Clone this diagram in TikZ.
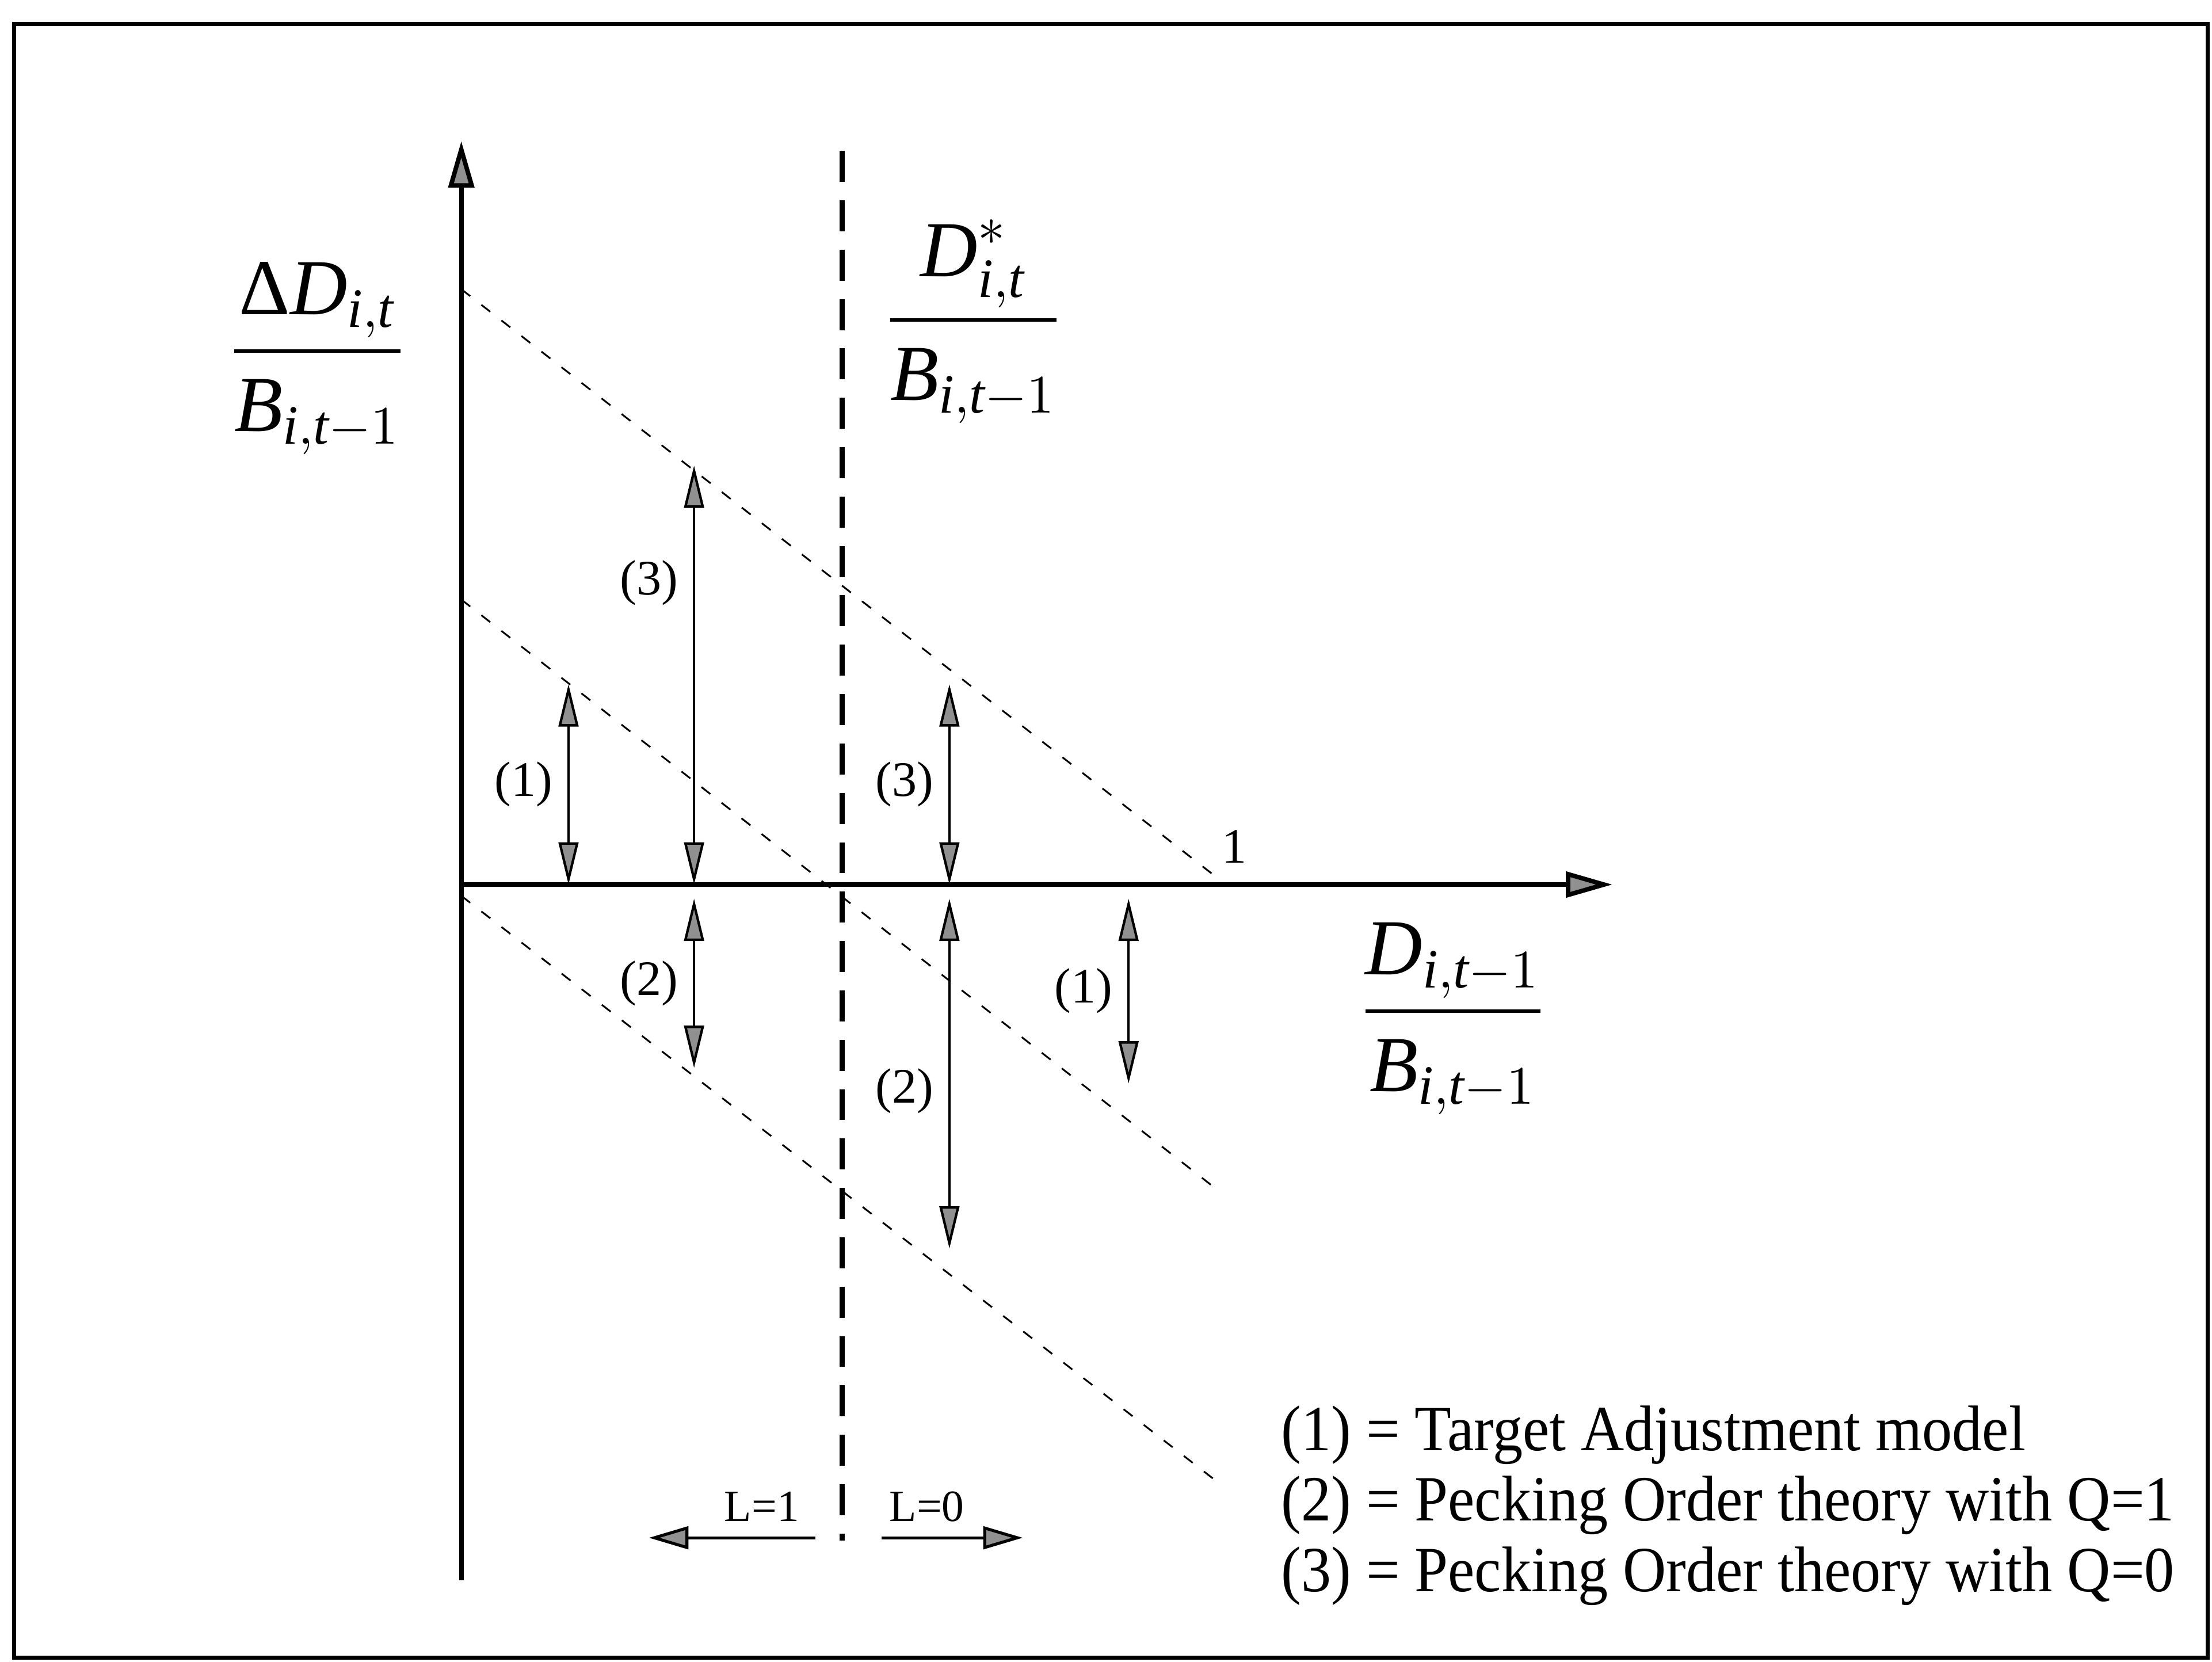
\documentclass[tikz,border=0pt]{standalone}
\usepackage{amsmath}
\usepackage{fontspec}
\setmainfont{Liberation Serif}
\newfontfamily\fontelegenda[FakeStretch=0.93]{Liberation Serif}
\usepackage{tikz}
\usetikzlibrary{arrows.meta}
\definecolor{cinzaseta}{HTML}{909090}

\begin{document}
\begin{tikzpicture}[x=0.1mm,y=-0.1mm,
    every node/.style={font=\fontsize{10}{12}\selectfont,inner sep=1pt},
    eixo/.style={line width=0.9pt,-{Triangle[length=3.3mm,width=1.8mm,fill=cinzaseta]}},
    duplo/.style={line width=0.5pt,{Triangle[length=3mm,width=1.4mm,fill=cinzaseta]}-{Triangle[length=3mm,width=1.4mm,fill=cinzaseta]}},
    seta/.style={line width=0.6pt,-{Triangle[length=2.8mm,width=1.6mm,fill=cinzaseta]}},
    reta/.style={line width=0.35pt,dash pattern=on 0.8mm off 1mm},
    corte/.style={line width=1.1pt,dash pattern=on 2.2mm off 1.3mm},
    fracao/.style={font=\fontsize{16}{19}\selectfont,anchor=base},
    legenda/.style={font=\fontelegenda\fontsize{13}{15}\selectfont,anchor=base west}]
  \useasboundingbox (0,0) rectangle (1568,1178);
  \draw[line width=0.8pt] (10,17) rectangle (1565,1175);
  \coordinate (orig) at (327,627);
  \coordinate (ybot) at (327,1120);
  \coordinate (ytip) at (327,100);
  \coordinate (xtip) at (1143,627);
  \coordinate (ctop) at (597,107);
  \coordinate (cbot) at (597,1092);
  \coordinate (a0) at (327,205);
  \coordinate (a1) at (860,620);
  \coordinate (b0) at (327,425);
  \coordinate (b1) at (865,845);
  \coordinate (c0) at (327,635);
  \coordinate (c1) at (865,1052);
  \coordinate (p1top) at (403,485);
  \coordinate (p1bot) at (403,627);
  \coordinate (p3top) at (492,330);
  \coordinate (p3bot) at (492,627);
  \coordinate (p2top) at (492,637);
  \coordinate (p2bot) at (492,757);
  \coordinate (q3top) at (673,485);
  \coordinate (q3bot) at (673,627);
  \coordinate (q2top) at (673,637);
  \coordinate (q2bot) at (673,885);
  \coordinate (q1top) at (800,637);
  \coordinate (q1bot) at (800,768);
  \coordinate (l1a) at (578,1090);
  \coordinate (l1b) at (460,1090);
  \coordinate (l0a) at (625,1090);
  \coordinate (l0b) at (725,1090);
  \draw[eixo] (ybot)--(ytip);
  \draw[eixo] (orig)--(xtip);
  \draw[corte] (ctop)--(cbot);
  \draw[reta] (a0)--(a1);
  \draw[reta] (b0)--(b1);
  \draw[reta] (c0)--(c1);
  \draw[duplo] (p1top)--(p1bot) node[midway,left=2pt] {(1)};
  \draw[duplo] (p3top)--(p3bot) node[pos=0.28,left=2pt] {(3)};
  \draw[duplo] (p2top)--(p2bot) node[midway,left=2pt] {(2)};
  \draw[duplo] (q3top)--(q3bot) node[midway,left=2pt] {(3)};
  \draw[duplo] (q2top)--(q2bot) node[pos=0.55,left=2pt] {(2)};
  \draw[duplo] (q1top)--(q1bot) node[midway,left=2pt] {(1)};
  \draw[seta] (l1a)--(l1b);
  \draw[seta] (l0a)--(l0b);
  \node (um) at (875,600) {1};
  \node[font=\fontsize{9}{11}\selectfont] (lum) at (540,1068) {L=1};
  \node[font=\fontsize{9}{11}\selectfont] (lzero) at (657,1068) {L=0};
  \node[fracao] (fy) at (225,264) {$\displaystyle\frac{\text{Δ}\textit{D}_{\textit{i},\textit{t}}}{\textit{B}_{\textit{i},\textit{t}-1}}$};
  \node[fracao] (fst) at (690,242) {$\displaystyle\frac{\textit{D}^{*}_{\textit{i},\textit{t}}}{\textit{B}_{\textit{i},\textit{t}-1}}$};
  \node[fracao] (fx) at (1030,732) {$\displaystyle\frac{\textit{D}_{\textit{i},\textit{t}-1}}{\textit{B}_{\textit{i},\textit{t}-1}}$};
  \node[legenda] (leg1) at (904,1028) {(1) = Target Adjustment model};
  \node[legenda] (leg2) at (904,1078) {(2) = Pecking Order theory with Q=1};
  \node[legenda] (leg3) at (904,1128) {(3) = Pecking Order theory with Q=0};
\end{tikzpicture}
\end{document}
